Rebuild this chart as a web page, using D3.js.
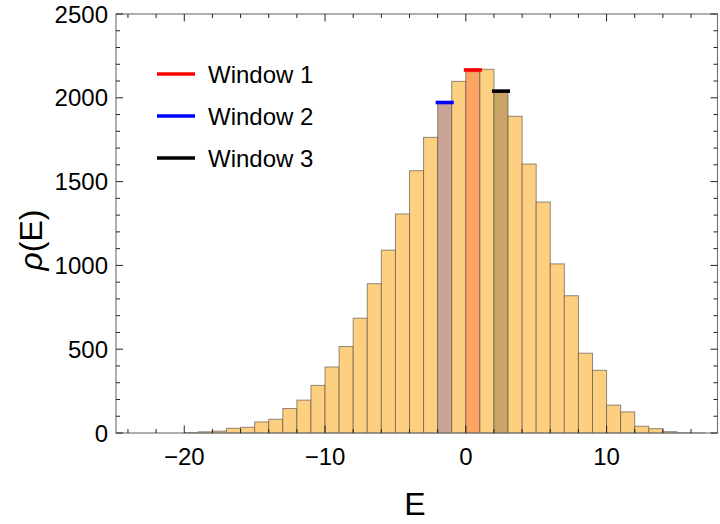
<!DOCTYPE html>
<html>
<head>
<meta charset="utf-8">
<script src="https://cdn.jsdelivr.net/npm/d3@7"></script>
<style>
  body { margin: 0; background: #fff; }
  svg { display: block; font-family: "Liberation Sans", Arial, sans-serif; }
</style>
</head>
<body>
<svg id="chart" width="720" height="524"></svg>
<script>
// histogram bins (left edges, width 1) and counts
var binStart = [-20, -19, -18, -17, -16, -15, -14, -13, -12, -11, -10, -9, -8, -7, -6, -5, -4, -3, -2, -1,
                0, 1, 2, 3, 4, 5, 6, 7, 8, 9, 10, 11, 12, 13, 14, 15, 16];
var counts = [3, 7, 11, 28, 34, 66, 82, 146, 196, 284, 394, 516, 685, 891, 1091, 1307, 1565, 1764, 1967, 2098,
              2156, 2170, 2033, 1890, 1605, 1378, 1009, 819, 476, 374, 166, 126, 40, 26, 8, 2, 1];

// highlighted windows
var windowNames = ["Window 1", "Window 2", "Window 3"];
var windowBins = [0, -2, 2];
var windowLevel = [2166, 1972, 2040];
var windowColors = ["#ff0000", "#0000ff", "#000000"];
var windowFills = ["#fda463", "#c9a497", "#c9a466"];

var yTicks = [0, 500, 1000, 1500, 2000, 2500];
var xTicks = [-20, -10, 0, 10];

(function() {
    var svg = d3.select("#chart");
    var mLeft = 116, mRight = 717.5, mTop = 14, mBottom = 433;

    var x = d3.scaleLinear().domain([-24.85, 17.88]).range([mLeft, mRight]);
    var y = d3.scaleLinear().domain([0, 2500]).range([mBottom, mTop]);

    var bins = binStart.map(function(b, i) { return {x0: b, x1: b + 1, n: counts[i]}; });

    function fillFor(d) {
        var k = windowBins.indexOf(d.x0);
        return k >= 0 ? windowFills[k] : "#fdd081";
    }

    // bars
    svg.append("g").selectAll("rect")
      .data(bins)
      .enter().append("rect")
        .attr("x", function(d) { return x(d.x0); })
        .attr("width", function(d) { return x(d.x1) - x(d.x0); })
        .attr("y", function(d) { return y(d.n); })
        .attr("height", function(d) { return y(0) - y(d.n); })
        .attr("fill", fillFor)
        .attr("stroke", "rgba(90,80,70,0.65)")
        .attr("stroke-width", 1);

    // window markers on top of the bars
    svg.append("g").selectAll("line")
      .data(windowBins)
      .enter().append("line")
        .attr("x1", function(d) { return x(d) - 2; })
        .attr("x2", function(d) { return x(d + 1) + 2; })
        .attr("y1", function(d, i) { return y(windowLevel[i]); })
        .attr("y2", function(d, i) { return y(windowLevel[i]); })
        .attr("stroke", function(d, i) { return windowColors[i]; })
        .attr("stroke-width", 3.6);

    // frame
    svg.append("rect")
      .attr("x", mLeft).attr("y", mTop)
      .attr("width", mRight - mLeft).attr("height", mBottom - mTop)
      .attr("fill", "none").attr("stroke", "#7a7a7a").attr("stroke-width", 1.2);

    // ticks: major + minor, on all four sides, pointing inward
    var ticks = svg.append("g").attr("stroke", "#222").attr("stroke-width", 1);
    d3.range(0, 2501, 100).forEach(function(v) {
        var len = v % 500 === 0 ? 7 : 4;
        ticks.append("line").attr("x1", mLeft).attr("x2", mLeft + len).attr("y1", y(v)).attr("y2", y(v));
        ticks.append("line").attr("x1", mRight).attr("x2", mRight - len).attr("y1", y(v)).attr("y2", y(v));
    });
    d3.range(-24, 18, 2).forEach(function(v) {
        var len = v % 10 === 0 ? 7.5 : 4;
        ticks.append("line").attr("x1", x(v)).attr("x2", x(v)).attr("y1", mBottom).attr("y2", mBottom - len);
        ticks.append("line").attr("x1", x(v)).attr("x2", x(v)).attr("y1", mTop).attr("y2", mTop + len);
    });

    // tick labels
    svg.append("g").selectAll("text")
      .data(yTicks)
      .enter().append("text")
        .attr("x", mLeft - 8)
        .attr("y", function(d) { return y(d); })
        .attr("dy", "0.36em")
        .attr("text-anchor", "end")
        .attr("font-size", 24)
        .text(function(d) { return d; });

    svg.append("g").selectAll("text")
      .data(xTicks)
      .enter().append("text")
        .attr("x", function(d) { return x(d); })
        .attr("y", 465)
        .attr("text-anchor", "middle")
        .attr("font-size", 24)
        .text(function(d) { return d < 0 ? "\u2212" + Math.abs(d) : d; });

    // axis titles
    svg.append("text")
      .attr("x", 415).attr("y", 515)
      .attr("text-anchor", "middle")
      .attr("font-size", 32)
      .text("E");

    svg.append("text")
      .attr("transform", "translate(42,240) rotate(-90)")
      .attr("text-anchor", "middle")
      .attr("font-size", 32)
      .html('<tspan font-style="italic">\u03c1</tspan>(E)');

    // legend
    var legend = svg.append("g").selectAll("g")
      .data(windowNames)
      .enter().append("g")
        .attr("transform", function(d, i) { return "translate(157," + (74 + i * 42) + ")"; });
    legend.append("line")
      .attr("x1", 0).attr("x2", 38)
      .attr("stroke", function(d, i) { return windowColors[i]; })
      .attr("stroke-width", 3.6);
    legend.append("text")
      .attr("x", 51)
      .attr("dy", "0.36em")
      .attr("font-size", 24)
      .text(function(d) { return d; });
})();
</script>
</body>
</html>
